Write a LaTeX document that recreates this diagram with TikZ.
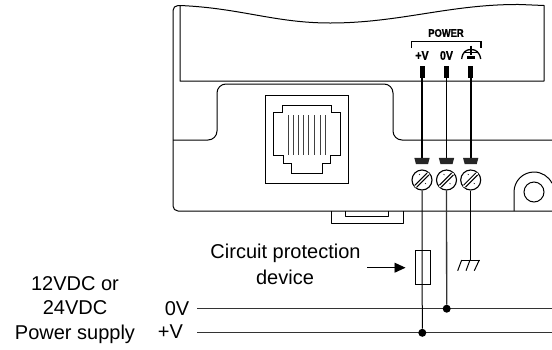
\documentclass[tikz,border=0pt]{standalone}
\usepackage{fontspec}
\setmainfont{Liberation Sans}
\newfontfamily\panelfont[FakeStretch=0.85,BoldFont={Liberation Sans Bold},BoldFeatures={FakeBold=1}]{Liberation Sans}
\usetikzlibrary{positioning}
\usetikzlibrary{arrows.meta}
\tikzset{
    body/.style={line width=1pt,line join=round},
    wire/.style={line width=1.3pt},
    lead/.style={line width=1.8pt},
    caption/.style={font=\fontsize{20}{24}\selectfont,inner sep=0pt,anchor=base},
    panel/.style={font=\panelfont\bfseries\fontsize{11}{12}\selectfont,inner sep=0pt},
    pinbar/.style={fill=black,draw=none,minimum width=5pt,minimum height=12pt,inner sep=0pt},
    screwhead/.style={circle,draw,line width=1.1pt,minimum size=20pt,inner sep=0pt},
    joint/.style={circle,fill=black,minimum size=8pt,inner sep=0pt}
}
\newcommand{\terminal}[2]{
    \node[pinbar] (pin#1) at (#2,72) {};
    \coordinate (tab#1) at (#2,158);
    \node[screwhead] (screw#1) at (#2,180) {};
    \draw[lead] (pin#1) -- (tab#1);
    \fill[black!85,shift={(#2,161)}] (-7.7,-3.2) -- (7.7,-3.2) -- (6,3.2) -- (-6,3.2) -- cycle;
    \draw[line width=3.8pt] ([shift={(-6,6)}]screw#1.center) -- ([shift={(6,-6)}]screw#1.center);
    \draw[line width=1.4pt,white] ([shift={(-7,7)}]screw#1.center) -- ([shift={(7,-7)}]screw#1.center);
    \draw[line width=.5pt] ([shift={(-3,-6)}]screw#1.center) -- +(1,1);
    \draw[line width=.5pt] ([shift={(3,3)}]screw#1.center) -- +(1,1);
}
\begin{document}
\begin{tikzpicture}[x=1pt,y=-1pt]
    \useasboundingbox (0,0) rectangle (552,349);
    % housing
    \draw[body] (552,211) -- (181,211) [rounded corners=5pt] -- (173,211) -- (173,5.5) -- (180,5.5);
    \draw[body] (180,5.5) .. controls (240,8) and (275,23) .. (330,23) .. controls (400,23) and (450,4) .. (520,4.5) -- (544,5.5) -- (544,81) -- (180,81) -- cycle;
    \draw[body,rounded corners=9pt] (173,140) -- (217,140) -- (217,84) -- (393,84) -- (393,140) -- (552,140);
    % phone socket
    \node[draw,line width=.9pt,minimum width=83pt,minimum height=88pt,inner sep=0pt] (socket) at (306.5,139) {};
    \draw[line width=.9pt] (282,105.5) -- (331,105.5) -- (331,112) -- (340,112) -- (340,155) -- (330,155) -- (330,163) -- (322,163) -- (322,173) -- (291,173) -- (291,163) -- (283,163) -- (283,155) -- (273,155) -- (273,112) -- (282,112) -- cycle;
    \foreach \pinx in {288,293.3,298.3,303.3,308.7,314,320,325.3}
        \draw[line width=1pt,black!75] (\pinx,115) -- (\pinx,155);
    % tab under the housing
    \draw[body] (331,211) -- (331,223) -- (403,223) -- (403,211);
    \draw[body] (345,211) -- (345,216) -- (388,216) -- (388,211);
    % mounting hole
    \draw[body] (514,211) -- (514,192) arc[start angle=180,end angle=26,radius=20pt];
    \node[circle,draw,line width=1pt,minimum size=20pt,inner sep=0pt] (hole) at (534,192) {};
    % power connector
    \node[panel] (power) at (446,33) {POWER};
    \draw[line width=1.2pt] (411.7,48) -- (411.7,41.7) -- (481,41.7) -- (481,48);
    \node[panel,font=\panelfont\bfseries\fontsize{12.5}{13}\selectfont] (plus) at (422,55.5) {+V};
    \node[panel,font=\panelfont\bfseries\fontsize{12.5}{13}\selectfont] (zero) at (446.5,55.5) {0V};
    \draw[line width=1.3pt] (461.7,59) .. controls (462.5,52) and (466,49.5) .. (471,49.5) .. controls (476,49.5) and (479.5,52) .. (480.7,59);
    \draw[line width=1.2pt] (471,45.7) -- (471,55) (464.5,52.5) -- (477.5,52.5);
    \draw[line width=2.2pt] (467,57.4) -- (475,57.4);
    \terminal{a}{422}
    \terminal{b}{446.5}
    \terminal{c}{470.7}
    % supply
    \node[caption] (supa) at (75,290) {12VDC or};
    \node[caption] (supb) at (75,314) {24VDC};
    \node[caption] (supc) at (75,339) {Power supply};
    \node[caption] (zerov) at (177,315) {0V};
    \node[caption] (plusv) at (170.5,338) {+V};
    \coordinate (zeroa) at (197,308.7);
    \coordinate (zerob) at (552,308.7);
    \coordinate (plusa) at (197,332.8);
    \coordinate (plusb) at (552,332.8);
    \draw[wire,black!80] (zeroa) -- (zerob);
    \draw[wire,black!80] (plusa) -- (plusb);
    \node[joint] (dota) at (422.3,332.8) {};
    \node[joint] (dotb) at (446.7,308.7) {};
    % fuse
    \node[draw,line width=1pt,minimum width=15pt,minimum height=34pt,inner sep=0pt] (fuse) at (422.7,267) {};
    \draw[line width=1pt] (screwa) -- (dota);
    \draw[wire,black!80] (screwb) -- (dotb);
    \node[caption] (circuit) at (285.5,258) {Circuit protection};
    \node[caption] (device) at (285,284) {device};
    \coordinate (arrowa) at (367,267.7);
    \coordinate (arrowb) at (405.5,267.7);
    \draw[line width=.9pt,-{Triangle[length=11pt,width=10pt]}] (arrowa) -- (arrowb);
    % earth
    \coordinate (earth) at (470.7,260);
    \draw[line width=1pt] (screwc) -- (earth);
    \draw[line width=1pt] (461.7,260) -- (480,260);
    \draw[line width=1pt] (461.7,260) -- (457.7,270.7) (470,260) -- (466,270.7) (479.3,260) -- (474.3,270.7);
\end{tikzpicture}
\end{document}
